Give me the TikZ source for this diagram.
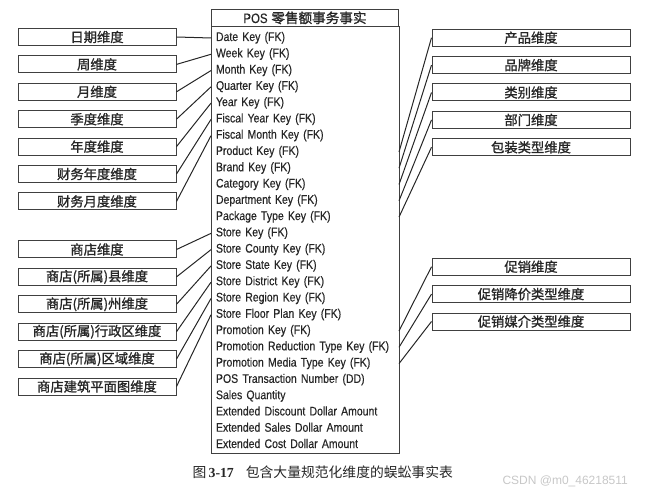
\documentclass[tikz,border=0pt]{standalone}
\usepackage{fontspec}
\setmainfont{Liberation Sans}
\newfontfamily\keyfont{Liberation Sans}[FakeStretch=0.84, FakeBold=0.4]
\newfontfamily\cjk{Noto Sans CJK SC}
\newfontfamily\cjkbox{Noto Sans CJK SC}[FakeBold=1.2]
\newfontfamily\capserif{Liberation Serif}
\usetikzlibrary{positioning}

\tikzset{
  dimbox/.style={draw=black!75, minimum width=158pt, minimum height=17pt, inner sep=0pt, text=black!85, font=\cjkbox\fontsize{13.3}{15}\selectfont},
  widebox/.style={dimbox, minimum width=198pt},
  keyrow/.style={anchor=west, inner xsep=4.5pt, inner ysep=0pt, text width=178pt, align=left, minimum height=16.28pt, text height=9pt, text depth=3pt, text=black!85, font=\keyfont\fontsize{12.5}{14}\selectfont},
  every edge/.style={draw, black!85},
}

\begin{document}
\begin{tikzpicture}[x=1pt, y=1pt, line width=1pt, node distance=27.4pt]
\useasboundingbox (0,0) rectangle (650,-494);

\node[draw=black!75, minimum width=187pt, minimum height=16.7pt, inner sep=0pt, anchor=north west, text=black!85, font=\fontsize{13.6}{16}\selectfont] (head) at (211,-9) {{\keyfont POS} {\cjkbox 零售额事务事实}};
\foreach \k [count=\i from 0] in {Date Key (FK), Week Key (FK), Month Key (FK), Quarter Key (FK), Year Key (FK), Fiscal Year Key (FK), Fiscal Month Key (FK), Product Key (FK), Brand Key (FK), Category Key (FK), Department Key (FK), Package Type Key (FK), Store Key (FK), Store County Key (FK), Store State Key (FK), Store District Key (FK), Store Region Key (FK), Store Floor Plan Key (FK), Promotion Key (FK), Promotion Reduction Type Key (FK), Promotion Media Type Key (FK), POS Transaction Number (DD), Sales Quantity, Extended Discount Dollar Amount, Extended Sales Dollar Amount, Extended Cost Dollar Amount}
  \node[keyrow] (k\i) at (211,{-38-16.28*\i}) {\k};
\draw[black!75] (head.south west) rectangle (k25.south east);

% left dimensions
\node[dimbox] (date) at (97,-37) {日期维度};
\node[dimbox] (week) [below of=date] {周维度};
\node[dimbox] (month) [below of=week] {月维度};
\node[dimbox] (quarter) [below of=month] {季度维度};
\node[dimbox] (year) [below of=quarter] {年度维度};
\node[dimbox] (fyear) [below of=year] {财务年度维度};
\node[dimbox] (fmonth) [below of=fyear] {财务月度维度};

\node[dimbox] (store) at (97,-249.5) {商店维度};
\node[dimbox] (county) [below of=store] {商店(所属)县维度};
\node[dimbox] (state) [below of=county] {商店(所属)州维度};
\node[dimbox] (district) [below of=state] {商店(所属)行政区维度};
\node[dimbox] (region) [below of=district] {商店(所属)区域维度};
\node[dimbox] (floor) [below of=region] {商店建筑平面图维度};

% right dimensions
\node[widebox] (product) at (531,-37.7) {产品维度};
\node[widebox] (brand) [below of=product] {品牌维度};
\node[widebox] (category) [below of=brand] {类别维度};
\node[widebox] (dept) [below of=category] {部门维度};
\node[widebox] (pkg) [below of=dept] {包装类型维度};

\node[widebox] (promo) at (531,-266.7) {促销维度};
\node[widebox] (reduc) [below of=promo] {促销降价类型维度};
\node[widebox] (media) [below of=reduc] {促销媒介类型维度};

\path (date.east) edge (k0.west);
\path (week.east) edge (k1.west);
\path (month.east) edge (k2.west);
\path (quarter.east) edge (k3.west);
\path (year.east) edge (k4.west);
\path (fyear.east) edge (k5.west);
\path (fmonth.east) edge (k6.west);
\path (store.east) edge (k12.west);
\path (county.east) edge (k13.west);
\path (state.east) edge (k14.west);
\path (district.east) edge (k15.west);
\path (region.east) edge (k16.west);
\path (floor.east) edge (k17.west);
\path (k7.east) edge (product.west);
\path (k8.east) edge (brand.west);
\path (k9.east) edge (category.west);
\path (k10.east) edge (dept.west);
\path (k11.east) edge (pkg.west);
\path (k18.east) edge (promo.west);
\path (k19.east) edge (reduc.west);
\path (k20.east) edge (media.west);

\node[anchor=west, inner sep=0pt, text=black!85, font=\fontsize{13.8}{16}\selectfont] (caption) at (192,-472) {{\cjk 图}\,{\capserif\bfseries 3-17}\hspace{12pt}{\cjk 包含大量规范化维度的蜈蚣事实表}};
\node[anchor=west, inner sep=0pt, text=black!22, font=\fontsize{12}{14}\selectfont] (mark) at (502,-481) {CSDN @m0\_46218511};
\end{tikzpicture}
\end{document}
